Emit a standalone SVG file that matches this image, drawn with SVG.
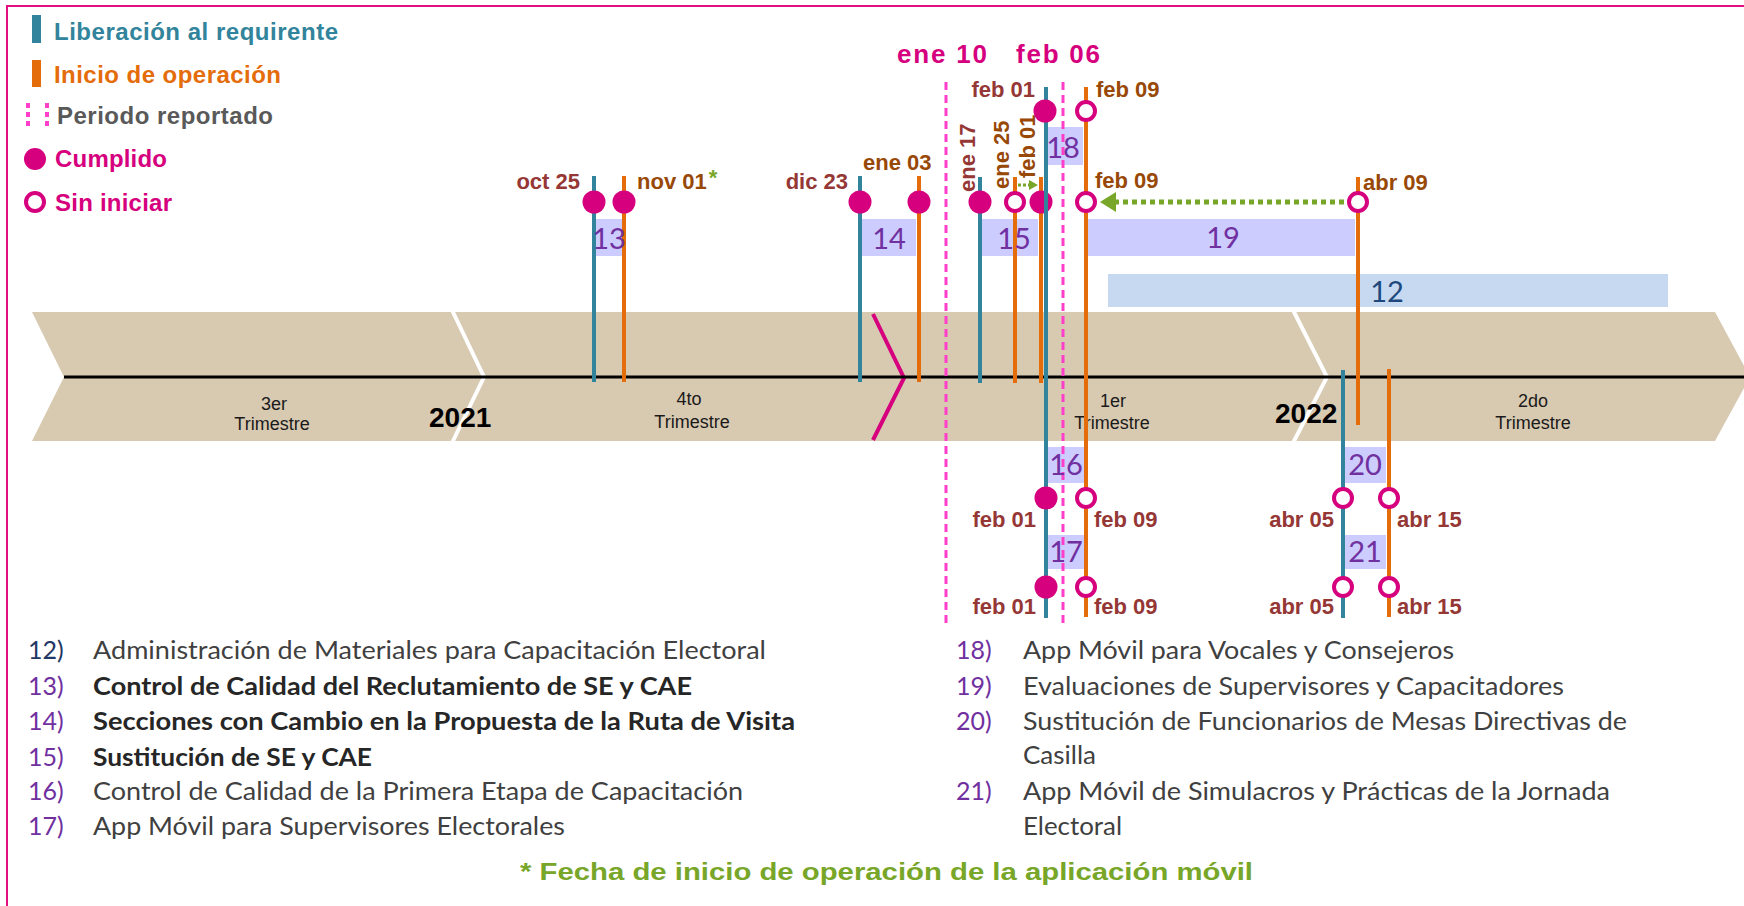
<svg xmlns="http://www.w3.org/2000/svg" width="1744" height="906" viewBox="0 0 1744 906">
<style>
.teal{stroke:#31849B;stroke-width:4;fill:none}
.orng{stroke:#E46C0A;stroke-width:4;fill:none}
.done{fill:#D6007E}
.todo{fill:#fff;stroke:#D6007E;stroke-width:4}
.box{fill:#CCCCFF}
.num{font-family:Lato,"Open Sans",sans-serif;font-size:29px;fill:#7030A0;text-anchor:middle}
.dr{font-family:"Liberation Sans",Arial,sans-serif;font-weight:bold;font-size:22px;fill:#953735}
.br{font-family:"Liberation Sans",Arial,sans-serif;font-weight:bold;font-size:22px;fill:#984807}
.end{text-anchor:end}
.per{stroke:#FF3EC9;stroke-width:3;stroke-dasharray:8 5;fill:none}
.leg{font-family:"Liberation Sans",Arial,sans-serif;font-weight:bold;font-size:24px}
.q{font-family:"Liberation Sans",Arial,sans-serif;font-size:18px;fill:#1a1a1a;text-anchor:middle}
.yr{font-family:"Liberation Sans",Arial,sans-serif;font-weight:bold;font-size:28px;fill:#000}
.li{font-family:Lato,"Open Sans",sans-serif;font-size:25px;fill:#404040}
.lb{font-family:Lato,"Open Sans",sans-serif;font-size:25px;font-weight:bold;fill:#262626}
.ln{font-family:Lato,"Open Sans",sans-serif;font-size:25px;fill:#7030A0}
.grn{stroke:#77A628;stroke-width:5;stroke-dasharray:5 4;fill:none}
</style>
<defs>
<marker id="ah" markerWidth="4" markerHeight="4" refX="3" refY="2" orient="auto" markerUnits="strokeWidth">
<path d="M0,0 L3.2,2 L0,4 z" fill="#77A628"/>
</marker>
</defs>
<rect x="0" y="0" width="1744" height="906" fill="#fff"/>
<rect x="7" y="6" width="1800" height="1000" fill="none" stroke="#E0107F" stroke-width="2"/>

<g id="legend">
<rect x="32" y="15" width="9" height="28" fill="#31849B"/>
<text class="leg" x="54" y="40" fill="#31849B" textLength="284">Liberación al requirente</text>
<rect x="32" y="60" width="9" height="27" fill="#E46C0A"/>
<text class="leg" x="54" y="83" fill="#E46C0A" textLength="227">Inicio de operación</text>
<line x1="28" y1="103" x2="28" y2="128" stroke="#FF3EC9" stroke-width="4" stroke-dasharray="5 4"/>
<line x1="47" y1="103" x2="47" y2="128" stroke="#FF3EC9" stroke-width="4" stroke-dasharray="5 4"/>
<text class="leg" x="57" y="124" fill="#595959" textLength="216">Periodo reportado</text>
<circle class="done" cx="35" cy="159" r="11"/>
<text class="leg" x="55" y="167" fill="#D6007E" textLength="112">Cumplido</text>
<circle class="todo" cx="35" cy="202" r="9"/>
<text class="leg" x="55" y="211" fill="#D6007E" textLength="117">Sin iniciar</text>
</g>

<g id="timeline">
<polygon points="32,312 1715,312 1750,377 1715,441 32,441 64,377" fill="#D8C9B1"/>
<polyline points="452,310 484,377 452,443" fill="none" stroke="#fff" stroke-width="4"/>
<polyline points="1293,310 1327,377 1293,443" fill="none" stroke="#fff" stroke-width="4"/>
<polyline points="873,314 904,378 873,440" fill="none" stroke="#D6007E" stroke-width="4"/>
<line x1="64" y1="377" x2="1744" y2="377" stroke="#000" stroke-width="3"/>
<text class="q" x="274" y="410">3er</text>
<text class="q" x="272" y="430">Trimestre</text>
<text class="yr" x="429" y="427">2021</text>
<text class="q" x="689" y="405">4to</text>
<text class="q" x="692" y="428">Trimestre</text>
<text class="q" x="1113" y="407">1er</text>
<text class="q" x="1112" y="429">Trimestre</text>
<text class="yr" x="1275" y="423">2022</text>
<text class="q" x="1533" y="407">2do</text>
<text class="q" x="1533" y="429">Trimestre</text>
</g>

<g id="boxes">
<rect class="box" x="595" y="219" width="28" height="37"/>
<rect class="box" x="860" y="219" width="56" height="37"/>
<rect class="box" x="982" y="219" width="56" height="37"/>
<rect class="box" x="1047" y="127" width="36" height="38"/>
<rect class="box" x="1088" y="219" width="267" height="37"/>
<rect x="1108" y="274" width="560" height="33" fill="#C6D9F1"/>
<rect class="box" x="1048" y="447" width="36" height="36"/>
<rect class="box" x="1048" y="535" width="36" height="34"/>
<rect class="box" x="1345" y="447" width="41" height="36"/>
<rect class="box" x="1345" y="535" width="41" height="34"/>
</g>

<g id="periodo">
<line class="per" x1="946" y1="82" x2="946" y2="625"/>
<line class="per" x1="1063" y1="82" x2="1063" y2="625"/>
<text x="897" y="63" font-family="Liberation Sans, Arial, sans-serif" font-weight="bold" font-size="26" fill="#D6007E" textLength="90">ene 10</text>
<text x="1016" y="63" font-family="Liberation Sans, Arial, sans-serif" font-weight="bold" font-size="26" fill="#D6007E" textLength="84">feb 06</text>
</g>

<g id="task13">
<line class="teal" x1="594" y1="176" x2="594" y2="382"/>
<line class="orng" x1="624" y1="176" x2="624" y2="382"/>
<circle class="done" cx="594" cy="202" r="11.5"/>
<circle class="done" cx="624" cy="202" r="11.5"/>
<text class="num" x="609" y="249">13</text>
<text class="dr end" x="580" y="189">oct 25</text>
<text class="br" x="637" y="189">nov 01<tspan fill="#77A628" dx="2" dy="-4">*</tspan></text>
</g>

<g id="task14">
<line class="teal" x1="860" y1="176" x2="860" y2="382"/>
<line class="orng" x1="919" y1="176" x2="919" y2="382"/>
<circle class="done" cx="860" cy="202" r="11.5"/>
<circle class="done" cx="919" cy="202" r="11.5"/>
<text class="num" x="889" y="249">14</text>
<text class="dr end" x="848" y="189">dic 23</text>
<text class="br" x="863" y="170">ene 03</text>
</g>

<g id="task15">
<line class="teal" x1="980" y1="177" x2="980" y2="383"/>
<line class="orng" x1="1015" y1="177" x2="1015" y2="383"/>
<line class="orng" x1="1041" y1="177" x2="1041" y2="383"/>
<circle class="done" cx="980" cy="202" r="11.5"/>
<circle class="todo" cx="1015" cy="202" r="9"/>
<circle class="done" cx="1041" cy="202" r="11.5"/>
<text class="num" x="1014" y="249">15</text>
<text class="dr" transform="translate(975,192) rotate(-90)">ene 17</text>
<text class="br" transform="translate(1009,189) rotate(-90)">ene 25</text>
<text class="br" transform="translate(1035,178) rotate(-90)">feb 01</text>
</g>

<g id="task16-18">
<line class="teal" x1="1046" y1="87" x2="1046" y2="618"/>
<line class="orng" x1="1086" y1="87" x2="1086" y2="617"/>
<circle class="done" cx="1045" cy="111" r="11.5"/>
<circle class="todo" cx="1086" cy="111" r="9"/>
<text class="num" x="1063" y="158">18</text>
<text class="dr end" x="1035" y="97">feb 01</text>
<text class="br" x="1096" y="97">feb 09</text>
<circle class="todo" cx="1086" cy="202" r="9"/>
<text class="br" x="1095" y="188">feb 09</text>
<circle class="done" cx="1046" cy="498" r="11.5"/>
<circle class="todo" cx="1086" cy="498" r="9"/>
<text class="num" x="1066" y="475">16</text>
<text class="dr end" x="1036" y="527">feb 01</text>
<text class="dr" x="1094" y="527">feb 09</text>
<circle class="done" cx="1046" cy="587" r="11.5"/>
<circle class="todo" cx="1086" cy="587" r="9"/>
<text class="num" x="1066" y="562">17</text>
<text class="dr end" x="1036" y="614">feb 01</text>
<text class="dr" x="1094" y="614">feb 09</text>
</g>

<g id="task19">
<line class="orng" x1="1358" y1="177" x2="1358" y2="425"/>
<circle class="todo" cx="1358" cy="202" r="9"/>
<text class="br" x="1363" y="190">abr 09</text>
<text class="num" x="1223" y="248">19</text>
</g>

<g id="task12">
<text class="num" x="1387" y="302" style="fill:#1F497D">12</text>
</g>

<g id="task20-21">
<line class="teal" x1="1343" y1="370" x2="1343" y2="618"/>
<line class="orng" x1="1389" y1="369" x2="1389" y2="617"/>
<circle class="todo" cx="1343" cy="498" r="9"/>
<circle class="todo" cx="1389" cy="498" r="9"/>
<text class="num" x="1365" y="475">20</text>
<text class="dr end" x="1334" y="527">abr 05</text>
<text class="dr" x="1397" y="527">abr 15</text>
<circle class="todo" cx="1343" cy="587" r="9"/>
<circle class="todo" cx="1389" cy="587" r="9"/>
<text class="num" x="1365" y="562">21</text>
<text class="dr end" x="1334" y="614">abr 05</text>
<text class="dr" x="1397" y="614">abr 15</text>
</g>

<g id="connectors">
<line class="grn" x1="1344" y1="202" x2="1101" y2="202" marker-end="url(#ah)"/>
<line x1="1018" y1="185" x2="1029" y2="185" stroke="#77A628" stroke-width="3" stroke-dasharray="3 2"/>
<path d="M1029,180 L1038,185 L1029,190 z" fill="#77A628"/>
</g>

<g id="list">
<text class="ln" x="28" y="659" style="fill:#1F3864">12)</text>
<text class="li" x="93" y="659" textLength="673" lengthAdjust="spacingAndGlyphs">Administración de Materiales para Capacitación Electoral</text>
<text class="ln" x="28" y="695">13)</text>
<text class="lb" x="93" y="695" textLength="599" lengthAdjust="spacingAndGlyphs">Control de Calidad del Reclutamiento de SE y CAE</text>
<text class="ln" x="28" y="730">14)</text>
<text class="lb" x="93" y="730" textLength="702" lengthAdjust="spacingAndGlyphs">Secciones con Cambio en la Propuesta de la Ruta de Visita</text>
<text class="ln" x="28" y="766">15)</text>
<text class="lb" x="93" y="766" textLength="279" lengthAdjust="spacingAndGlyphs">Sustitución de SE y CAE</text>
<text class="ln" x="28" y="800">16)</text>
<text class="li" x="93" y="800" textLength="650" lengthAdjust="spacingAndGlyphs">Control de Calidad de la Primera Etapa de Capacitación</text>
<text class="ln" x="28" y="835">17)</text>
<text class="li" x="93" y="835" textLength="472" lengthAdjust="spacingAndGlyphs">App Móvil para Supervisores Electorales</text>
<text class="ln" x="956" y="659">18)</text>
<text class="li" x="1023" y="659" textLength="431" lengthAdjust="spacingAndGlyphs">App Móvil para Vocales y Consejeros</text>
<text class="ln" x="956" y="695">19)</text>
<text class="li" x="1023" y="695" textLength="541" lengthAdjust="spacingAndGlyphs">Evaluaciones de Supervisores y Capacitadores</text>
<text class="ln" x="956" y="730">20)</text>
<text class="li" x="1023" y="730" textLength="604" lengthAdjust="spacingAndGlyphs">Sustitución de Funcionarios de Mesas Directivas de</text>
<text class="li" x="1023" y="764" textLength="73" lengthAdjust="spacingAndGlyphs">Casilla</text>
<text class="ln" x="956" y="800">21)</text>
<text class="li" x="1023" y="800" textLength="587" lengthAdjust="spacingAndGlyphs">App Móvil de Simulacros y Prácticas de la Jornada</text>
<text class="li" x="1023" y="835" textLength="99" lengthAdjust="spacingAndGlyphs">Electoral</text>
<text x="520" y="880" font-family="Liberation Sans, Arial, sans-serif" font-weight="bold" font-size="24" fill="#77A628" textLength="733" lengthAdjust="spacingAndGlyphs">* Fecha de inicio de operación de la aplicación móvil</text>
</g>
</svg>
